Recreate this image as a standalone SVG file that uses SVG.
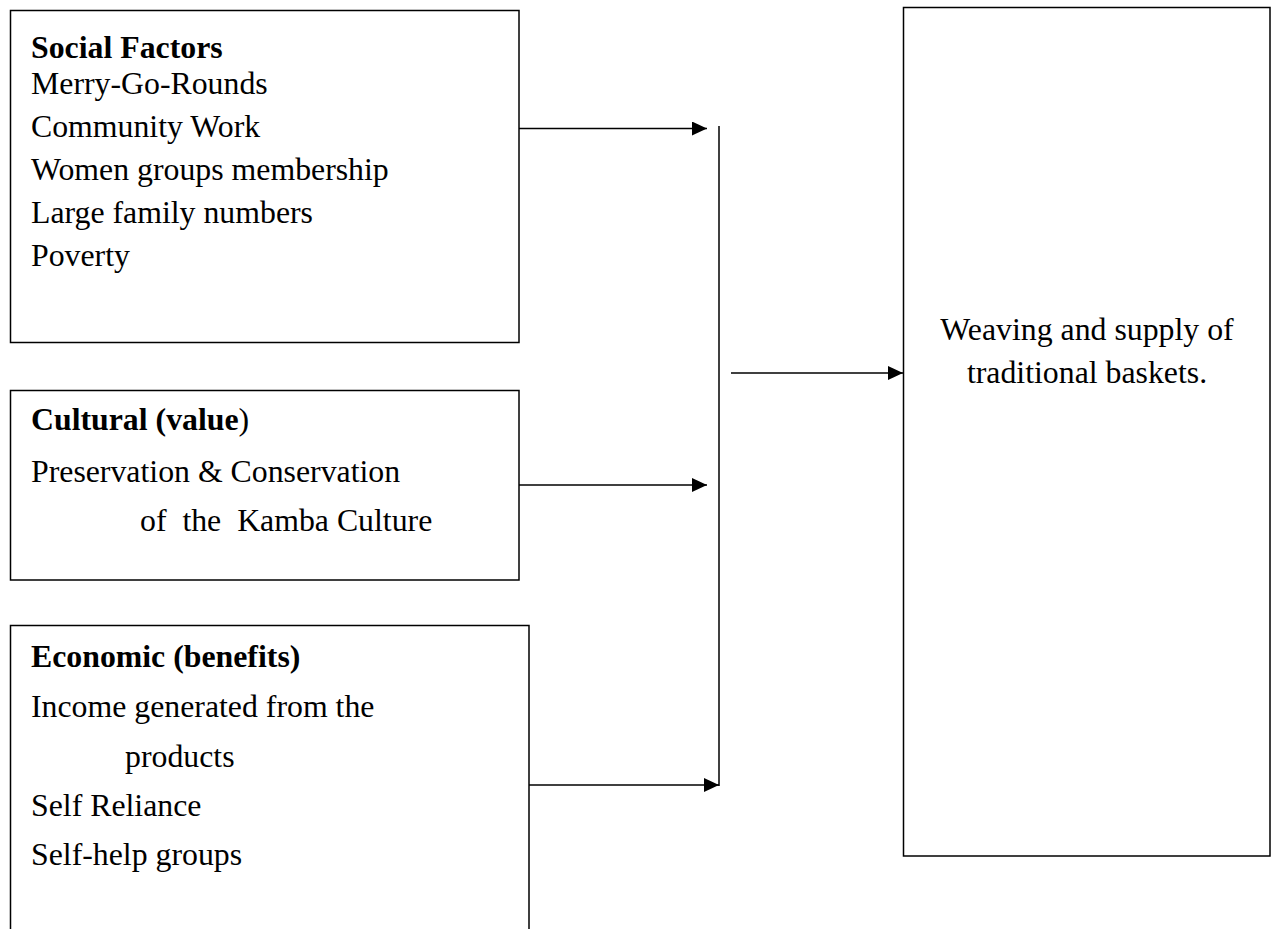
<svg xmlns="http://www.w3.org/2000/svg" width="1271" height="929" viewBox="0 0 1271 929">
<style>
.box{fill:#fff;stroke:#000;stroke-width:1.5}
.t{font-family:"Liberation Serif","Times New Roman",serif;font-size:31.8px;fill:#000}
.b{font-weight:bold}
.c{stroke:#000;stroke-width:1.5;fill:none}
</style>
<defs>
<marker id="ah" markerWidth="15" markerHeight="14" refX="15" refY="7" orient="auto" markerUnits="userSpaceOnUse">
<path d="M0,0 L15,7 L0,14 Z" fill="#000"/>
</marker>
</defs>
<rect width="1271" height="929" fill="#fff"/>
<g id="social">
<rect class="box" x="10.5" y="10.5" width="508.5" height="332"/>
<text class="t b" x="31" y="58">Social Factors</text>
<text class="t" x="31" y="94">Merry-Go-Rounds</text>
<text class="t" x="31" y="137">Community Work</text>
<text class="t" x="31" y="180">Women groups membership</text>
<text class="t" x="31" y="223">Large family numbers</text>
<text class="t" x="31" y="266">Poverty</text>
</g>
<g id="cultural">
<rect class="box" x="10.5" y="390.5" width="508.5" height="189.5"/>
<text class="t" x="31" y="430"><tspan class="b">Cultural (value</tspan>)</text>
<text class="t" x="31" y="482">Preservation &amp; Conservation</text>
<text class="t" x="140" y="531" xml:space="preserve">of  the  Kamba Culture</text>
</g>
<g id="economic">
<path class="box" d="M10.5,935 V625.5 H529 V935"/>
<text class="t b" x="31" y="667">Economic (benefits)</text>
<text class="t" x="31" y="717">Income generated from the</text>
<text class="t" x="125" y="767">products</text>
<text class="t" x="31" y="816">Self Reliance</text>
<text class="t" x="31" y="865">Self-help groups</text>
</g>
<g id="outcome">
<rect class="box" x="903.5" y="7.5" width="366.5" height="848.5"/>
<text class="t" x="1087" y="340" text-anchor="middle">Weaving and supply of</text>
<text class="t" x="1087" y="383" text-anchor="middle">traditional baskets.</text>
</g>
<g id="connectors">
<line class="c" x1="519" y1="128.5" x2="707" y2="128.5" marker-end="url(#ah)"/>
<line class="c" x1="519" y1="485" x2="707" y2="485" marker-end="url(#ah)"/>
<line class="c" x1="529" y1="785" x2="719" y2="785" marker-end="url(#ah)"/>
<line class="c" x1="719" y1="126" x2="719" y2="786"/>
<line class="c" x1="731" y1="373" x2="903" y2="373" marker-end="url(#ah)"/>
</g>
</svg>
